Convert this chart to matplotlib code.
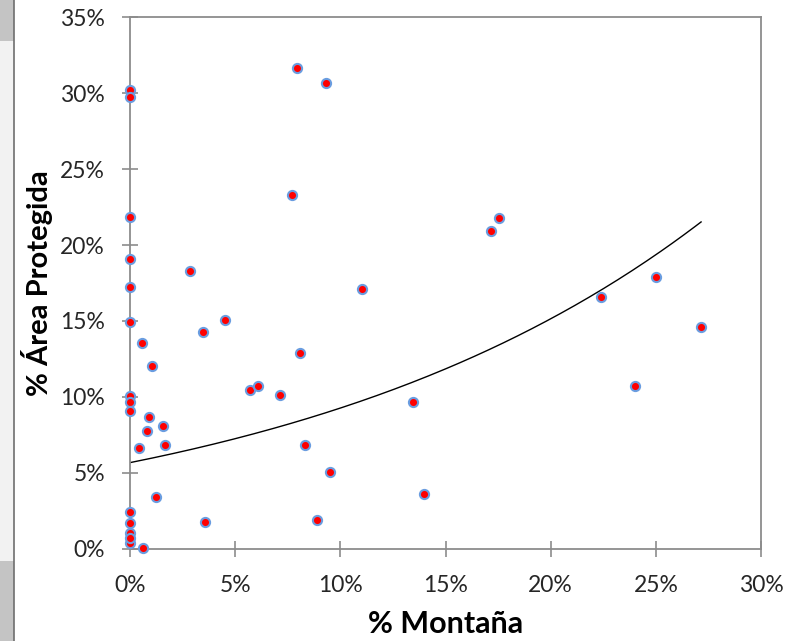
import numpy as np
import matplotlib
matplotlib.use("Agg")
import matplotlib.pyplot as plt
from matplotlib.ticker import PercentFormatter
from matplotlib.patches import Rectangle
from matplotlib.lines import Line2D

# ===============================
# Data (in %)
# ===============================

montana = [0, 0, 0, 0, 0, 0, 0, 0, 0, 0, 0, 0, 0, 0,
           0.64, 0.44, 0.57, 0.82, 0.92, 1.06, 1.25, 1.58, 1.68,
           2.87, 3.45, 3.58, 4.53, 5.72, 6.1, 7.14, 7.7, 7.95, 8.1,
           8.3, 8.9, 9.33, 9.5, 11.04, 13.46, 14.0, 17.17, 17.55,
           22.4, 24.0, 25.0, 27.15]

area_protegida = [30.2, 29.75, 21.83, 19.06, 17.26, 14.91, 10.05, 9.65, 9.05,
                  2.43, 1.70, 1.0, 0.38, 0.7,
                  0.03, 6.6, 13.55, 7.75, 8.7, 12.0, 3.4, 8.1, 6.8,
                  18.29, 14.29, 1.75, 15.06, 10.45, 10.7, 10.1, 23.3, 31.7, 12.9,
                  6.8, 1.9, 30.7, 5.04, 17.1, 9.66, 3.6, 20.9, 21.8,
                  16.6, 10.7, 17.9, 14.6]

# exponential trend y = a * exp(b * x), x and y in %
trend_a = 5.66
trend_b = 0.0492

# ===============================
# Plot
# ===============================

plt.rcParams['font.family'] = ['Lato', 'DejaVu Sans']

fig = plt.figure(figsize=(8, 6.41), dpi=100)
ax = fig.add_axes([0.1625, 0.1443, 0.7888, 0.8284])

# gray strip on the left edge of the screenshot
fig.patches.append(Rectangle((0, 0), 14 / 800, 1, transform=fig.transFigure,
                             facecolor='#c4c4c4', edgecolor='none', zorder=0))
fig.patches.append(Rectangle((0, 80 / 641), 14 / 800, 520 / 641, transform=fig.transFigure,
                             facecolor='#f2f2f2', edgecolor='none', zorder=0))
fig.lines.append(Line2D([14.5 / 800, 14.5 / 800], [0, 1], transform=fig.transFigure,
                        color='#6e6e6e', lw=1.2))

xt = np.linspace(0, max(montana), 200)
ax.plot(xt, trend_a * np.exp(trend_b * xt), color='black', lw=1.0, zorder=2)

ax.plot(montana, area_protegida, 'o', ms=6.6, mfc='red', mec='#6a9de0', mew=1.5,
        zorder=3, clip_on=False)

ax.set_xlim(0, 30)
ax.set_ylim(0, 35)
ax.set_xticks(np.arange(0, 31, 5))
ax.set_yticks(np.arange(0, 36, 5))
ax.xaxis.set_major_formatter(PercentFormatter(decimals=0))
ax.yaxis.set_major_formatter(PercentFormatter(decimals=0))

for s in ax.spines.values():
    s.set_color('#8c8c8c')
    s.set_linewidth(1.3)

ax.tick_params(direction='inout', length=12, width=1.2, color='#8c8c8c',
               labelsize=16.5, labelcolor='#262626')
ax.tick_params(axis='x', pad=13)
ax.tick_params(axis='y', pad=12)

ax.set_xlabel("% Montaña", fontsize=22, fontweight='bold', labelpad=10)
ax.set_ylabel("% Área Protegida", fontsize=21, fontweight='bold', labelpad=5)

fig.savefig("out.png", dpi=100)
